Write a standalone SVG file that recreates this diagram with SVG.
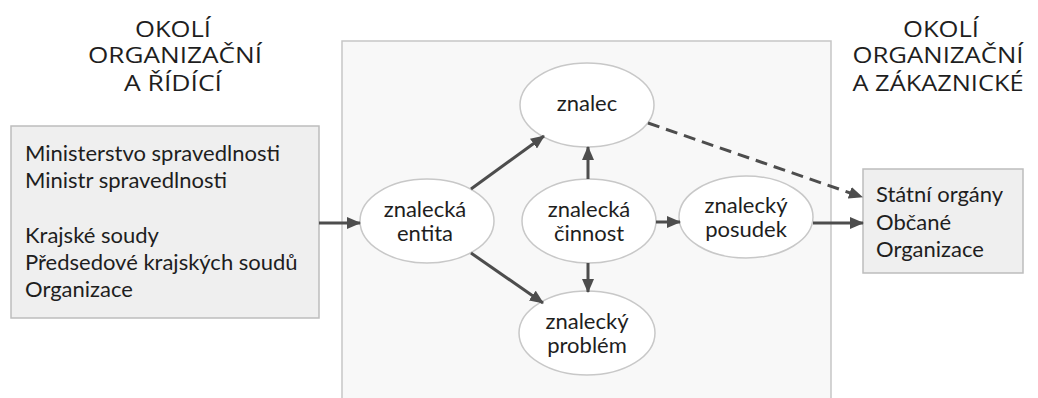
<svg xmlns="http://www.w3.org/2000/svg" width="1038" height="398" viewBox="0 0 1038 398">
<defs>
<marker id="ah" markerUnits="userSpaceOnUse" markerWidth="14" markerHeight="12" viewBox="0 0 14 12" refX="13" refY="6" orient="auto">
<path d="M0,0 L14,6 L0,12 Z" fill="#4d4d4d"/>
</marker>
</defs>
<style>
.title{font-family:"Open Sans","DejaVu Sans",sans-serif;font-size:22.5px;fill:#1e1e1e;text-anchor:middle}
.t{font-family:Lato,"Open Sans",sans-serif;font-size:22px;fill:#1e1e1e}
.c{text-anchor:middle}
.box{fill:#efefef;stroke:#bdbdbd;stroke-width:1.5}
.area{fill:#f8f8f8;stroke:#c6c6c6;stroke-width:1.5}
.ell{fill:#ffffff;stroke:#c8c8c8;stroke-width:1.5}
.ln{stroke:#4d4d4d;stroke-width:3;fill:none;marker-end:url(#ah)}
.dash{stroke-dasharray:12,7}
</style>
<rect width="1038" height="398" fill="#ffffff"/>
<g id="title-left">
<text class="title" x="173" y="37" textLength="76" lengthAdjust="spacingAndGlyphs">OKOLÍ</text>
<text class="title" x="175" y="63" textLength="174" lengthAdjust="spacingAndGlyphs">ORGANIZAČNÍ</text>
<text class="title" x="173" y="91" textLength="98" lengthAdjust="spacingAndGlyphs">A ŘÍDÍCÍ</text>
</g>
<g id="title-right">
<text class="title" x="941" y="37" textLength="76" lengthAdjust="spacingAndGlyphs">OKOLÍ</text>
<text class="title" x="938" y="63" textLength="171" lengthAdjust="spacingAndGlyphs">ORGANIZAČNÍ</text>
<text class="title" x="938" y="91" textLength="171" lengthAdjust="spacingAndGlyphs">A ZÁKAZNICKÉ</text>
</g>
<g id="area">
<rect class="area" x="342" y="41" width="489" height="370"/>
</g>
<g id="left-box">
<rect class="box" x="11" y="126" width="308" height="192"/>
<text class="t" x="25" y="161">Ministerstvo spravedlnosti</text>
<text class="t" x="25" y="188">Ministr spravedlnosti</text>
<text class="t" x="25" y="243">Krajské soudy</text>
<text class="t" x="25" y="270">Předsedové krajských soudů</text>
<text class="t" x="25" y="297">Organizace</text>
</g>
<g id="right-box">
<rect class="box" x="863" y="169" width="160" height="104"/>
<text class="t" x="876" y="202">Státní orgány</text>
<text class="t" x="876" y="230">Občané</text>
<text class="t" x="876" y="257">Organizace</text>
</g>
<g id="znalec">
<ellipse class="ell" cx="587" cy="105" rx="67" ry="42"/>
<text class="t c" x="587" y="111">znalec</text>
</g>
<g id="entita">
<ellipse class="ell" cx="427" cy="221" rx="67" ry="42"/>
<text class="t c" x="425" y="217">znalecká</text>
<text class="t c" x="425" y="241">entita</text>
</g>
<g id="cinnost">
<ellipse class="ell" cx="589" cy="221" rx="67" ry="42"/>
<text class="t c" x="589" y="217">znalecká</text>
<text class="t c" x="589" y="241">činnost</text>
</g>
<g id="problem">
<ellipse class="ell" cx="587" cy="333" rx="68" ry="42"/>
<text class="t c" x="587" y="329">znalecký</text>
<text class="t c" x="587" y="353">problém</text>
</g>
<g id="posudek">
<ellipse class="ell" cx="746" cy="217" rx="67" ry="41"/>
<text class="t c" x="746" y="213">znalecký</text>
<text class="t c" x="746" y="237">posudek</text>
</g>
<g id="connectors">
<line class="ln" x1="319" y1="223" x2="360" y2="223"/>
<line class="ln" x1="471" y1="189" x2="544" y2="136"/>
<line class="ln" x1="588" y1="179" x2="588" y2="147"/>
<line class="ln" x1="471" y1="253" x2="543" y2="303"/>
<line class="ln" x1="588" y1="263" x2="588" y2="292"/>
<line class="ln" x1="656" y1="222" x2="680" y2="222"/>
<line class="ln" x1="813" y1="223" x2="863" y2="223"/>
<line class="ln dash" x1="648" y1="123" x2="862" y2="197"/>
</g>
</svg>
